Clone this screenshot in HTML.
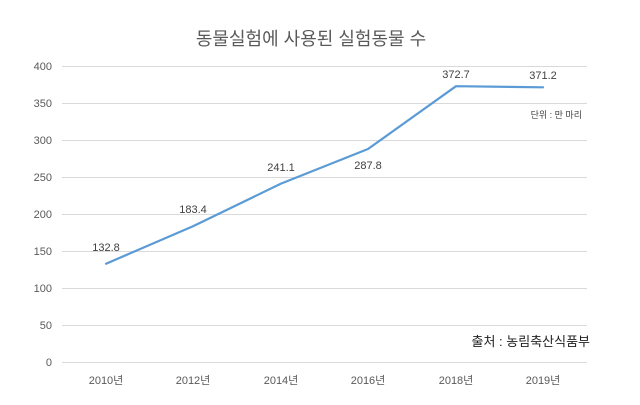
<!DOCTYPE html>
<html><head><meta charset="utf-8"><style>
html,body{margin:0;padding:0;background:#fff;}
svg{display:block;font-family:"Liberation Sans","Noto Sans CJK KR",sans-serif;}
</style></head><body>
<svg width="640" height="405" viewBox="0 0 640 405">
<rect width="640" height="405" fill="#fff"/>
<text x="311" y="45" font-size="18" fill="#595959" text-anchor="middle">동물실험에 사용된 실험동물 수</text>
<g stroke="#d9d9d9" stroke-width="1">
<line x1="62" x2="587" y1="66.5" y2="66.5"/>
<line x1="62" x2="587" y1="103.5" y2="103.5"/>
<line x1="62" x2="587" y1="140.5" y2="140.5"/>
<line x1="62" x2="587" y1="177.5" y2="177.5"/>
<line x1="62" x2="587" y1="214.5" y2="214.5"/>
<line x1="62" x2="587" y1="251.5" y2="251.5"/>
<line x1="62" x2="587" y1="288.5" y2="288.5"/>
<line x1="62" x2="587" y1="325.5" y2="325.5"/>
<line x1="62" x2="587" y1="362.5" y2="362.5"/>
</g>
<g font-size="11" fill="#595959" text-anchor="end">
<text x="52" y="70">400</text><text x="52" y="107">350</text><text x="52" y="144">300</text>
<text x="52" y="181">250</text><text x="52" y="218">200</text><text x="52" y="255">150</text>
<text x="52" y="292">100</text><text x="52" y="329">50</text><text x="52" y="366">0</text>
</g>
<g font-size="11" fill="#595959" text-anchor="middle">
<text x="106" y="384">2010년</text><text x="193" y="384">2012년</text><text x="281" y="384">2014년</text>
<text x="368" y="384">2016년</text><text x="456" y="384">2018년</text><text x="543" y="384">2019년</text>
</g>
<polyline points="106,263.7 193,226.3 281,183.6 368,149 456,86.2 543,87.3" fill="none" stroke="#5b9bd5" stroke-width="2.2" stroke-linejoin="round" stroke-linecap="round"/>
<g font-size="11" fill="#404040" text-anchor="middle">
<text x="106" y="251">132.8</text><text x="193" y="213">183.4</text><text x="281" y="171">241.1</text>
<text x="368" y="169">287.8</text><text x="456" y="78">372.7</text><text x="543" y="79">371.2</text>
</g>
<text x="582" y="118" font-size="9" fill="#404040" text-anchor="end">단위 : 만 마리</text>
<text x="590" y="346" font-size="13" fill="#222" text-anchor="end">출처 : 농림축산식품부</text>
</svg>
</body></html>
